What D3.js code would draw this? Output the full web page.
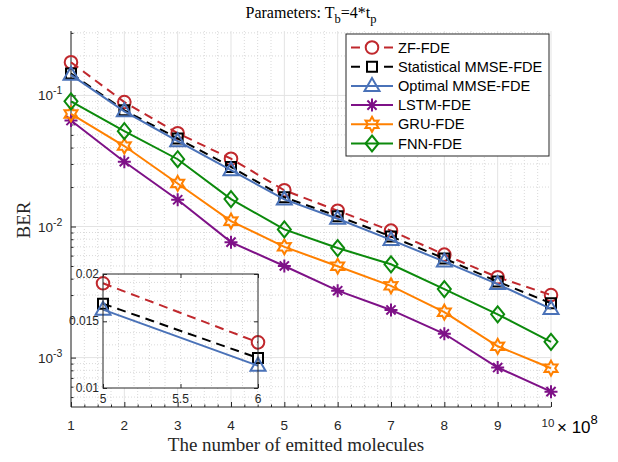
<!DOCTYPE html>
<html><head><meta charset="utf-8">
<script src="https://cdn.jsdelivr.net/npm/d3@7"></script>
<style>
html,body{margin:0;padding:0;background:#fff;}
svg{display:block;}
</style></head>
<body>
<svg id="chart" width="618" height="462"></svg>
<script>
// ---------- data ----------
const xValues = [1,2,3,4,5,6,7,8,9,10];
const zfFDE   = [0.179, 0.089, 0.0515, 0.0329, 0.0189, 0.0132, 0.0093, 0.0061, 0.0041, 0.0030];
const statMMSE= [0.147, 0.077, 0.047, 0.0285, 0.0167, 0.0120, 0.0084, 0.0057, 0.0038, 0.0026];
const optMMSE = [0.1435, 0.0756, 0.0448, 0.0269, 0.0161, 0.01145, 0.0079, 0.0054, 0.00364, 0.00235];
const lstmFDE = [0.0643, 0.0312, 0.0160, 0.0076, 0.0050, 0.00324, 0.00231, 0.00152, 0.00084, 0.00055];
const gruFDE  = [0.0722, 0.0411, 0.0213, 0.0110, 0.0070, 0.00498, 0.00353, 0.00222, 0.00122, 0.00083];
const fnnFDE  = [0.0901, 0.0534, 0.0326, 0.0162, 0.0095, 0.00685, 0.00515, 0.00333, 0.00214, 0.00132];
const seriesNames = ["ZF-FDE","Statistical MMSE-FDE","Optimal MMSE-FDE","LSTM-FDE","GRU-FDE","FNN-FDE"];
const xTickLabels = ["1","2","3","4","5","6","7","8","9","10"];
const yTickExps = [-3,-2,-1];
const insetXTicks = [5, 5.5, 6];
const insetYTicks = [0.01, 0.015, 0.02];
const insetYTickLabels = ["0.01","0.015","0.02"];

const seriesStyle = [
  {data: zfFDE,   color:"#c0282d", dash:"9,6", marker:"circle"},
  {data: statMMSE,color:"#000000", dash:"9,6", marker:"square"},
  {data: optMMSE, color:"#4a72b8", dash:null,  marker:"triangle"},
  {data: lstmFDE, color:"#7e1187", dash:null,  marker:"asterisk"},
  {data: gruFDE,  color:"#ff8000", dash:null,  marker:"hexagram"},
  {data: fnnFDE,  color:"#0c8a0c", dash:null,  marker:"diamond"}
];

// ---------- layout ----------
const svg = d3.select("#chart");
const L = 71, R = 551, T = 31, B = 407;
const x = d3.scaleLinear().domain([1,10]).range([L,R]);
const y = d3.scaleLog().domain([4.2e-4, 0.31]).range([B,T]);
const sans = "'Liberation Sans', Arial, Helvetica, sans-serif";
const serif = "'Liberation Serif', 'Times New Roman', Times, serif";
const axisColor = "#262626";

// ---------- marker paths ----------
function markerPath(type){
  const p = d3.path();
  if(type==="circle"){ p.arc(0,0,6.3,0,2*Math.PI); }
  else if(type==="square"){ p.rect(-5,-5,10,10); }
  else if(type==="triangle"){ p.moveTo(0,-8); p.lineTo(7.5,5); p.lineTo(-7.5,5); p.closePath(); }
  else if(type==="diamond"){ p.moveTo(0,-8); p.lineTo(6.5,0); p.lineTo(0,8); p.lineTo(-6.5,0); p.closePath(); }
  else if(type==="asterisk"){
    const r=6.5, d=r*0.7071;
    p.moveTo(-r,0);p.lineTo(r,0);p.moveTo(0,-r);p.lineTo(0,r);
    p.moveTo(-d,-d);p.lineTo(d,d);p.moveTo(-d,d);p.lineTo(d,-d);
  }
  else if(type==="hexagram"){
    const ro=7.5, ri=4.2;
    for(let i=0;i<12;i++){
      const a = -Math.PI/2 + i*Math.PI/6;
      const r = (i%2===0)?ro:ri;
      if(i===0) p.moveTo(r*Math.cos(a), r*Math.sin(a)); else p.lineTo(r*Math.cos(a), r*Math.sin(a));
    }
    p.closePath();
  }
  return p.toString();
}

// ---------- grid ----------
const grid = svg.append("g");
const minorY = [];
for(let e=-4;e<=-1;e++){ for(let m=2;m<=9;m++){ const v=m*Math.pow(10,e); if(v>=4.2e-4 && v<=0.31) minorY.push(v);} }
grid.selectAll(".my").data(minorY).enter().append("line")
  .attr("x1",L).attr("x2",R).attr("y1",d=>y(d)).attr("y2",d=>y(d))
  .attr("stroke","#cfcfcf").attr("stroke-width",0.8).attr("stroke-dasharray","1,2");
const minorX = d3.range(1,10.001,0.25).filter(v=>Math.abs(v-Math.round(v))>1e-6);
grid.selectAll(".mx").data(minorX).enter().append("line")
  .attr("x1",d=>x(d)).attr("x2",d=>x(d)).attr("y1",T).attr("y2",B)
  .attr("stroke","#cfcfcf").attr("stroke-width",0.8).attr("stroke-dasharray","1,2");
grid.selectAll(".gy").data(yTickExps).enter().append("line")
  .attr("x1",L).attr("x2",R).attr("y1",d=>y(Math.pow(10,d))).attr("y2",d=>y(Math.pow(10,d)))
  .attr("stroke","#e3e3e3").attr("stroke-width",1);
grid.selectAll(".gx").data(xValues).enter().append("line")
  .attr("x1",d=>x(d)).attr("x2",d=>x(d)).attr("y1",T).attr("y2",B)
  .attr("stroke","#e3e3e3").attr("stroke-width",1);

// ---------- axes ----------
const xAxis = d3.axisBottom(x).tickValues(xValues).tickSize(-5).tickFormat("");
const gx = svg.append("g").attr("transform",`translate(0,${B})`).call(xAxis);
gx.select(".domain").attr("stroke",axisColor).attr("d",`M${L},0H${R}`);
gx.selectAll(".tick line").attr("stroke",axisColor);
const xMinorAxis = d3.axisBottom(x).tickValues(minorX).tickSize(-2.5).tickFormat("");
const gxm = svg.append("g").attr("transform",`translate(0,${B})`).call(xMinorAxis);
gxm.select(".domain").remove(); gxm.selectAll(".tick line").attr("stroke",axisColor);

const yAxis = d3.axisLeft(y).tickValues(yTickExps.map(e=>Math.pow(10,e))).tickSize(-5).tickFormat("");
const gy = svg.append("g").attr("transform",`translate(${L},0)`).call(yAxis);
gy.select(".domain").attr("stroke",axisColor).attr("d",`M0,${T}V${B}`);
gy.selectAll(".tick line").attr("stroke",axisColor);
const yMinorAxis = d3.axisLeft(y).tickValues(minorY).tickSize(-2.5).tickFormat("");
const gym = svg.append("g").attr("transform",`translate(${L},0)`).call(yMinorAxis);
gym.select(".domain").remove(); gym.selectAll(".tick line").attr("stroke",axisColor);

// x tick labels
svg.append("g").selectAll("text").data(xValues).enter().append("text")
  .attr("x",d=>d===10? x(d)-3 : x(d)).attr("y",d=>d===10?427:430)
  .attr("text-anchor","middle").attr("font-family",sans).attr("font-size",d=>d===10?11.5:13.5)
  .attr("fill",axisColor).text((d,i)=>xTickLabels[i]);
// x exponent
const xe = svg.append("text").attr("x",557).attr("y",433).attr("font-family",sans).attr("fill","#000");
xe.append("tspan").attr("font-size",17).text("× 10");
xe.append("tspan").attr("font-size",13).attr("dy",-9).text("8");

// y tick labels
const ylab = svg.append("g").selectAll("text").data(yTickExps).enter().append("text")
  .attr("x",38).attr("y",d=>y(Math.pow(10,d))+5)
  .attr("font-family",sans).attr("font-size",13.5).attr("fill",axisColor);
ylab.append("tspan").text("10");
ylab.append("tspan").attr("font-size",10.5).attr("dy",-6).text(d=>"-"+Math.abs(d));

// axis titles
svg.append("text").attr("x",296).attr("y",451).attr("text-anchor","middle")
  .attr("font-family",serif).attr("font-size",19).attr("fill","#262626").text("The number of emitted molecules");
svg.append("text").attr("transform","translate(30,220) rotate(-90)").attr("text-anchor","middle")
  .attr("font-family",serif).attr("font-size",19).attr("fill","#262626").text("BER");
// title
const tt = svg.append("text").attr("x",311).attr("y",18).attr("text-anchor","middle")
  .attr("font-family",serif).attr("font-size",16).attr("fill","#000");
tt.append("tspan").text("Parameters: T");
tt.append("tspan").attr("font-size",12.5).attr("dy",5).text("b");
tt.append("tspan").attr("dy",-5).text("=4*t");
tt.append("tspan").attr("font-size",12.5).attr("dy",5).text("p");

// ---------- series ----------
function drawSeries(g, xs, ys, pts){
  const line = d3.line().x(d=>xs(d.x)).y(d=>ys(d.y));
  seriesStyle.forEach(s=>{
    const data = pts(s.data);
    g.append("path").datum(data).attr("d",line).attr("fill","none")
      .attr("stroke",s.color).attr("stroke-width",2).attr("stroke-dasharray",s.dash);
    g.selectAll(null).data(data).enter().append("path")
      .attr("transform",d=>`translate(${xs(d.x)},${ys(d.y)})`)
      .attr("d",markerPath(s.marker)).attr("fill","none")
      .attr("stroke",s.color).attr("stroke-width",2);
  });
}
const main = svg.append("g");
drawSeries(main, x, y, arr=>xValues.map((v,i)=>({x:v,y:arr[i]})));

// ---------- inset ----------
const IL=103, IR=258, IT=274, IB=388;
const ix = d3.scaleLinear().domain([5,6]).range([IL,IR]);
const iy = d3.scaleLog().domain([0.01,0.02]).range([IB,IT]);
const inset = svg.append("g");
inset.append("rect").attr("x",IL).attr("y",IT).attr("width",IR-IL).attr("height",IB-IT).attr("fill","#fff");
const iMinorY = d3.range(0.011,0.0195,0.001);
inset.selectAll(".imy").data(iMinorY).enter().append("line")
  .attr("x1",IL).attr("x2",IR).attr("y1",d=>iy(d)).attr("y2",d=>iy(d))
  .attr("stroke","#cfcfcf").attr("stroke-width",0.8).attr("stroke-dasharray","1,2");
const iMinorX = d3.range(5.1,5.95,0.1);
inset.selectAll(".imx").data(iMinorX).enter().append("line")
  .attr("x1",d=>ix(d)).attr("x2",d=>ix(d)).attr("y1",IT).attr("y2",IB)
  .attr("stroke","#cfcfcf").attr("stroke-width",0.8).attr("stroke-dasharray","1,2");
const ixAxis = d3.axisBottom(ix).tickValues(insetXTicks).tickSize(-4).tickFormat("");
const igx = inset.append("g").attr("transform",`translate(0,${IB})`).call(ixAxis);
igx.select(".domain").remove(); igx.selectAll(".tick line").attr("stroke",axisColor);
const ixAxisT = d3.axisTop(ix).tickValues(insetXTicks).tickSize(-4).tickFormat("");
const igxt = inset.append("g").attr("transform",`translate(0,${IT})`).call(ixAxisT);
igxt.select(".domain").remove(); igxt.selectAll(".tick line").attr("stroke",axisColor);
const iyAxis = d3.axisLeft(iy).tickValues(insetYTicks).tickSize(-4).tickFormat("");
const igy = inset.append("g").attr("transform",`translate(${IL},0)`).call(iyAxis);
igy.select(".domain").remove(); igy.selectAll(".tick line").attr("stroke",axisColor);
const iyAxisR = d3.axisRight(iy).tickValues(insetYTicks).tickSize(-4).tickFormat("");
const igyr = inset.append("g").attr("transform",`translate(${IR},0)`).call(iyAxisR);
igyr.select(".domain").remove(); igyr.selectAll(".tick line").attr("stroke",axisColor);

const insetPlot = inset.append("g");
const insetSeries = seriesStyle.slice(0,3);
const line2 = d3.line().x(d=>ix(d.x)).y(d=>iy(d.y));
insetSeries.forEach(s=>{
  const data = xValues.map((v,i)=>({x:v,y:s.data[i]})).filter(d=>d.x>=5 && d.x<=6);
  insetPlot.append("path").datum(data).attr("d",line2).attr("fill","none")
    .attr("stroke",s.color).attr("stroke-width",2).attr("stroke-dasharray",s.dash);
  insetPlot.selectAll(null).data(data).enter().append("path")
    .attr("transform",d=>`translate(${ix(d.x)},${iy(d.y)})`)
    .attr("d",markerPath(s.marker)).attr("fill","none")
    .attr("stroke",s.color).attr("stroke-width",2);
});
inset.append("rect").attr("x",IL).attr("y",IT).attr("width",IR-IL).attr("height",IB-IT)
  .attr("fill","none").attr("stroke",axisColor).attr("stroke-width",1);
inset.selectAll(".ixl").data(insetXTicks).enter().append("text")
  .attr("x",d=>ix(d)).attr("y",IB+15).attr("text-anchor","middle")
  .attr("font-family",sans).attr("font-size",12).attr("fill",axisColor).text(d=>String(d));
inset.selectAll(".iyl").data(insetYTicks).enter().append("text")
  .attr("x",IL-4).attr("y",d=>iy(d)+4).attr("text-anchor","end")
  .attr("font-family",sans).attr("font-size",12).attr("fill",axisColor).text((d,i)=>insetYTickLabels[i]);

// ---------- legend ----------
const LX=346, LY=34, LW=203, LH=122;
const lg = svg.append("g");
lg.append("rect").attr("x",LX).attr("y",LY).attr("width",LW).attr("height",LH)
  .attr("fill","#fff").attr("stroke",axisColor).attr("stroke-width",1);
seriesStyle.forEach((s,i)=>{
  const cy = LY + 13.5 + i*19.2;
  lg.append("line").attr("x1",LX+5).attr("x2",LX+47).attr("y1",cy).attr("y2",cy)
    .attr("stroke",s.color).attr("stroke-width",2).attr("stroke-dasharray",s.dash? "9,24,9":null);
  lg.append("path").attr("transform",`translate(${LX+26},${cy})`).attr("d",markerPath(s.marker))
    .attr("fill","none").attr("stroke",s.color).attr("stroke-width",2);
  lg.append("text").attr("x",LX+52).attr("y",cy+5).attr("font-family",sans).attr("font-size",14.6)
    .attr("fill","#000").text(seriesNames[i]);
});
</script>
</body></html>
